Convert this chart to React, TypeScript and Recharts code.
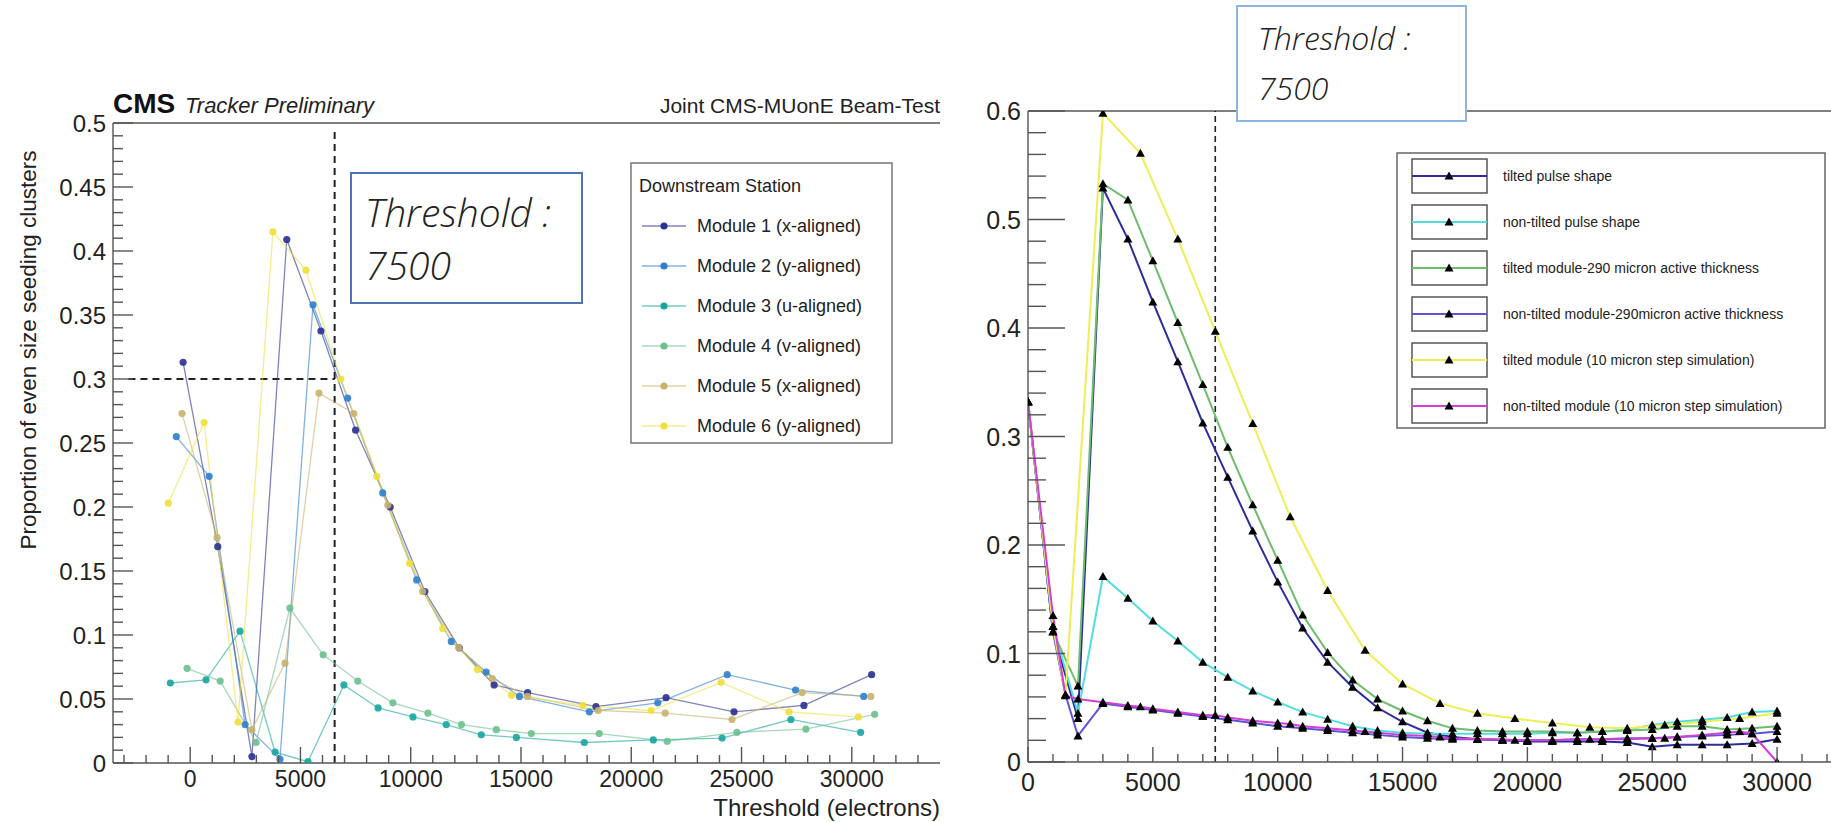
import React from 'react'
import { LineChart, Line, XAxis, YAxis, ReferenceLine } from 'recharts'

const FONT = "'Liberation Sans', Arial, Helvetica, sans-serif"
const NOTE_FONT = "'Open Sans', 'Noto Sans', sans-serif"

// ---- left panel: beam-test modules (threshold in electrons -> proportion)
const moduleNames = [
  'Module 1 (x-aligned)',
  'Module 2 (y-aligned)',
  'Module 3 (u-aligned)',
  'Module 4 (v-aligned)',
  'Module 5 (x-aligned)',
  'Module 6 (y-aligned)',
]
const moduleColors = ['#2b3191', '#2f7fcb', '#17a59e', '#6cc08e', '#c9b36b', '#f0df3a']

const m1X = [-320, 1250, 2800, 4380, 5930, 7500, 9070, 10640, 12200, 13780, 15300, 18400, 21580, 24660, 27830, 30900]
const m1Y = [0.313, 0.169, 0.005, 0.409, 0.3375, 0.26, 0.2, 0.134, 0.09, 0.061, 0.055, 0.044, 0.051, 0.04, 0.045, 0.069]
const m2X = [-630, 860, 2490, 4070, 5570, 7140, 8730, 10270, 11840, 13420, 14930, 18100, 21200, 24350, 27450, 30540]
const m2Y = [0.255, 0.224, 0.03, 0.003, 0.358, 0.285, 0.211, 0.143, 0.095, 0.071, 0.052, 0.04, 0.047, 0.069, 0.057, 0.052]
const m3X = [-900, 720, 2260, 3850, 5340, 6970, 8520, 10100, 11610, 13200, 14790, 17870, 21000, 24120, 27240, 30400]
const m3Y = [0.0625, 0.065, 0.103, 0.0085, 0.001, 0.061, 0.043, 0.036, 0.03, 0.022, 0.02, 0.016, 0.018, 0.0195, 0.034, 0.024]
const m4X = [-140, 1360, 2990, 4520, 6030, 7600, 9190, 10780, 12300, 13880, 15470, 18550, 21630, 24790, 27920, 31040]
const m4Y = [0.074, 0.064, 0.016, 0.121, 0.0845, 0.064, 0.047, 0.039, 0.03, 0.026, 0.023, 0.023, 0.017, 0.024, 0.0265, 0.038]
const m5X = [-370, 1220, 2800, 4300, 5840, 7420, 8960, 10540, 12180, 13700, 15300, 18500, 21540, 24570, 27750, 30860]
const m5Y = [0.273, 0.176, 0.026, 0.078, 0.289, 0.273, 0.2015, 0.134, 0.09, 0.066, 0.052, 0.041, 0.039, 0.034, 0.055, 0.052]
const m6X = [-990, 630, 2170, 3750, 5250, 6830, 8460, 9950, 11450, 13030, 14570, 17800, 20900, 24070, 27150, 30300]
const m6Y = [0.203, 0.266, 0.032, 0.415, 0.385, 0.3, 0.224, 0.156, 0.105, 0.073, 0.053, 0.045, 0.041, 0.063, 0.04, 0.036]

// ---- right panel: simulations
const simNames = [
  'tilted pulse shape',
  'non-tilted pulse shape',
  'tilted module-290 micron active thickness',
  'non-tilted module-290micron active thickness',
  'tilted module (10 micron step simulation)',
  'non-tilted module (10 micron step simulation)',
]
const simColors = ['#2c2c9c', '#52dede', '#6dbd6d', '#5d55d4', '#eeee55', '#d33fd3']

const stepX = [0, 1000, 2000, 3000, 4000, 5000, 6000, 7000, 8000, 9000, 10000, 11000, 12000, 13000, 14000, 15000,
  16000, 17000, 18000, 19000, 20000, 21000, 22000, 23000, 24000, 25000, 26000, 27000, 28000, 29000, 30000]
const tiltedPulseY = [0.332, 0.12, 0.04, 0.529, 0.482, 0.424, 0.369, 0.3125, 0.2625, 0.213, 0.166, 0.1235, 0.092, 0.069,
  0.05, 0.037, 0.027, 0.023, 0.021, 0.02, 0.019, 0.019, 0.019, 0.019, 0.018, 0.014, 0.016, 0.016, 0.016, 0.017, 0.021]
const flatPulseY = [0.332, 0.125, 0.045, 0.171, 0.151, 0.13, 0.1115, 0.092, 0.078, 0.0655, 0.0553, 0.046, 0.0395, 0.033,
  0.029, 0.027, 0.026, 0.026, 0.026, 0.026, 0.026, 0.027, 0.027, 0.028, 0.03, 0.034, 0.037, 0.039, 0.041, 0.046, 0.047]
const tilted290Y = [0.332, 0.12, 0.07, 0.533, 0.518, 0.462, 0.405, 0.348, 0.29, 0.237, 0.186, 0.1355, 0.101, 0.0755,
  0.058, 0.047, 0.038, 0.031, 0.029, 0.028, 0.028, 0.028, 0.027, 0.028, 0.029, 0.03, 0.033, 0.033, 0.03, 0.031, 0.033]
const flat290X = [0, 1000, 1500, 2000, 3000, 4000, 5000, 6000, 7000, 8000, 9000, 10000, 11000, 12000, 13000, 14000, 15000,
  16000, 17000, 18000, 19000, 20000, 21000, 22000, 23000, 24000, 25000, 26000, 27000, 28000, 29000, 30000]
const flat290Y = [0.332, 0.12, 0.062, 0.024, 0.054, 0.051, 0.048, 0.045, 0.042, 0.039, 0.036, 0.033, 0.031, 0.029, 0.027,
  0.025, 0.023, 0.022, 0.021, 0.021, 0.02, 0.02, 0.02, 0.021, 0.021, 0.022, 0.022, 0.023, 0.024, 0.025, 0.026, 0.028]
const tilted10X = [0, 1000, 1500, 3000, 4500, 6000, 7500, 9000, 10500, 12000, 13500, 15000, 16500, 18000, 19500, 21000,
  22500, 24000, 25500, 27000, 28500, 30000]
const tilted10Y = [0.332, 0.125, 0.062, 0.598, 0.561, 0.482, 0.397, 0.312, 0.226, 0.158, 0.103, 0.072, 0.054, 0.045,
  0.04, 0.036, 0.032, 0.031, 0.034, 0.037, 0.04, 0.045]
const flat10X = [0, 1000, 1500, 2000, 3000, 4000, 4500, 5000, 6000, 7000, 7500, 8000, 9000, 10000, 10500, 11000, 12000,
  13000, 13500, 14000, 15000, 16000, 16500, 17000, 18000, 19000, 19500, 20000, 21000, 22000, 22500, 23000, 24000, 25000,
  25500, 26000, 27000, 28000, 28500, 29000, 30000]
const flat10Y = [0.332, 0.135, 0.061, 0.058, 0.055, 0.052, 0.051, 0.049, 0.046, 0.043, 0.043, 0.041, 0.038, 0.036, 0.035,
  0.033, 0.031, 0.029, 0.028, 0.027, 0.025, 0.024, 0.023, 0.022, 0.021, 0.021, 0.02, 0.02, 0.02, 0.021, 0.021, 0.021,
  0.021, 0.022, 0.022, 0.023, 0.025, 0.027, 0.028, 0.026, 0]

const pts = (xs: number[], ys: number[]) => xs.map((x, i) => ({ x, y: ys[i] }))

const moduleSeries = [
  pts(m1X, m1Y), pts(m2X, m2Y), pts(m3X, m3Y), pts(m4X, m4Y), pts(m5X, m5Y), pts(m6X, m6Y),
]
const simSeries = [
  pts(stepX, tiltedPulseY), pts(stepX, flatPulseY), pts(stepX, tilted290Y),
  pts(flat290X, flat290Y), pts(tilted10X, tilted10Y), pts(flat10X, flat10Y),
]

const range = (a: number, b: number, s: number) => {
  const out: number[] = []
  for (let v = a; v <= b + 1e-9; v += s) out.push(Math.round(v * 1000) / 1000)
  return out
}
const leftXTicks = range(-3000, 33000, 1000)
const leftYTicks = range(0, 0.5, 0.01)
const rightXTicks = range(0, 32000, 1000)
const rightYTicks = range(0, 0.6, 0.02)

const fmtY = (v: number) => String(+v.toFixed(2))

const xTick = (isMajor: (v: number) => boolean, maj: number, min: number, dy: number, fs: number) => (p: any) => {
  const v = p.payload.value
  const big = isMajor(v)
  return (
    <g>
      <line x1={p.x} y1={p.y} x2={p.x} y2={p.y - (big ? maj : min)} stroke="#555" strokeWidth={1.4} />
      {big && (
        <text x={p.x} y={p.y + dy} textAnchor="middle" fontSize={fs} fill="#222" fontFamily={FONT}>{v}</text>
      )}
    </g>
  )
}

const yTick = (isMajor: (v: number) => boolean, maj: number, min: number, fs: number) => (p: any) => {
  const v = p.payload.value
  const big = isMajor(v)
  return (
    <g>
      <line x1={p.x} y1={p.y} x2={p.x + (big ? maj : min)} y2={p.y} stroke="#555" strokeWidth={1.4} />
      {big && (
        <text x={p.x - 7} y={p.y + fs * 0.36} textAnchor="end" fontSize={fs} fill="#222" fontFamily={FONT}>{fmtY(v)}</text>
      )}
    </g>
  )
}

const TriDot = (p: any) => {
  const { cx, cy } = p
  if (cx == null || cy == null) return <g />
  return <path d={`M${cx},${cy - 4.5} L${cx + 4.5},${cy + 3.5} L${cx - 4.5},${cy + 3.5} Z`} fill="#000" />
}

function LeftPanel() {
  return (
    <LineChart width={960} height={822} margin={{ top: 123, right: 20, bottom: 19, left: 53 }}>
      <XAxis
        type="number" dataKey="x" domain={[-3500, 34000]} allowDataOverflow ticks={leftXTicks} interval={0}
        height={40} tickSize={0} tickMargin={0} tickLine={false} stroke="#555" strokeWidth={1.4}
        tick={xTick((v) => v % 5000 === 0, 16, 8, 24, 23)}
      />
      <YAxis
        type="number" domain={[0, 0.5]} allowDataOverflow ticks={leftYTicks} interval={0}
        width={60} tickSize={0} tickMargin={0} tickLine={false} stroke="#555" strokeWidth={1.4}
        tick={yTick((v) => Math.round(v * 100) % 5 === 0, 20, 10, 24)}
      />
      <ReferenceLine y={0.5} stroke="#555" strokeWidth={1.4} />
      <ReferenceLine segment={[{ x: -2800, y: 0.3 }, { x: 6550, y: 0.3 }]} stroke="#222" strokeWidth={2} strokeDasharray="7 5" />
      <ReferenceLine segment={[{ x: 6550, y: 0 }, { x: 6550, y: 0.495 }]} stroke="#222" strokeWidth={2} strokeDasharray="7 5" />
      {moduleSeries.map((d, i) => (
        <Line
          key={moduleNames[i]} data={d} dataKey="y" type="linear" stroke={moduleColors[i]} strokeOpacity={0.6}
          strokeWidth={1.3} dot={{ r: 3.6, fill: moduleColors[i], stroke: 'none', fillOpacity: 0.9 }}
          isAnimationActive={false}
        />
      ))}
    </LineChart>
  )
}

function RightPanel() {
  return (
    <LineChart width={891} height={822} margin={{ top: 111, right: 0, bottom: 20, left: 28 }}>
      <XAxis
        type="number" dataKey="x" domain={[0, 32160]} allowDataOverflow ticks={rightXTicks} interval={0}
        height={40} tickSize={0} tickMargin={0} tickLine={false} stroke="#555" strokeWidth={1.4}
        tick={xTick((v) => v % 5000 === 0, 15, 8, 29, 25)}
      />
      <YAxis
        type="number" domain={[0, 0.6]} allowDataOverflow ticks={rightYTicks} interval={0}
        width={60} tickSize={0} tickMargin={0} tickLine={false} stroke="#555" strokeWidth={1.4}
        tick={yTick((v) => Math.round(v * 100) % 10 === 0, 37, 18, 25)}
      />
      <ReferenceLine y={0.6} stroke="#555" strokeWidth={1.4} />
      <ReferenceLine x={7500} stroke="#222" strokeWidth={1.6} strokeDasharray="6 4" />
      {simSeries.map((d, i) => (
        <Line
          key={simNames[i]} data={d} dataKey="y" type="linear" stroke={simColors[i]} strokeWidth={2}
          dot={TriDot} isAnimationActive={false}
        />
      ))}
    </LineChart>
  )
}

function Overlay() {
  return (
    <svg width={1831} height={822} style={{ position: 'absolute', left: 0, top: 0, pointerEvents: 'none' }}>
      {/* left header */}
      <text x={113} y={113} fontFamily={FONT} fontWeight="bold" fontSize={28} fill="#111">CMS</text>
      <text x={185} y={113} fontFamily={FONT} fontStyle="italic" fontSize={22} fill="#222">Tracker Preliminary</text>
      <text x={940} y={113} textAnchor="end" fontFamily={FONT} fontSize={21} fill="#222">Joint CMS-MUonE Beam-Test</text>
      <text
        x={0} y={0} transform="translate(28,350) rotate(-90)" textAnchor="middle" dominantBaseline="central"
        fontFamily={FONT} fontSize={22.5} fill="#222"
      >
        Proportion of even size seeding clusters
      </text>
      <text x={940} y={816} textAnchor="end" fontFamily={FONT} fontSize={24} fill="#222">Threshold (electrons)</text>

      {/* left threshold note */}
      <rect x={351} y={173} width={231} height={130} fill="#fff" stroke="#4f74b3" strokeWidth={2} />
      <text x={365} y={227} fontFamily={NOTE_FONT} fontStyle="italic" fontWeight={300} fontSize={39} fill="#222">Threshold :</text>
      <text x={365} y={280} fontFamily={NOTE_FONT} fontStyle="italic" fontWeight={300} fontSize={39} fill="#222">7500</text>

      {/* left legend */}
      <rect x={631} y={163} width={261} height={280} fill="#fff" stroke="#777" strokeWidth={1.5} />
      <text x={639} y={192} fontFamily={FONT} fontSize={18} fill="#222">Downstream  Station</text>
      {moduleNames.map((n, i) => {
        const cy = 226 + i * 40
        return (
          <g key={n}>
            <line x1={642} y1={cy} x2={686} y2={cy} stroke={moduleColors[i]} strokeOpacity={0.6} strokeWidth={1.3} />
            <circle cx={664} cy={cy} r={3.6} fill={moduleColors[i]} />
            <text x={697} y={cy + 6} fontFamily={FONT} fontSize={18} fill="#222">{n}</text>
          </g>
        )
      })}

      {/* right threshold note */}
      <rect x={1237} y={6} width={229} height={115} fill="#fff" stroke="#8cb6df" strokeWidth={2} />
      <text x={1258} y={50} fontFamily={NOTE_FONT} fontStyle="italic" fontWeight={300} fontSize={32} fill="#222">Threshold :</text>
      <text x={1258} y={100} fontFamily={NOTE_FONT} fontStyle="italic" fontWeight={300} fontSize={32} fill="#222">7500</text>

      {/* right legend */}
      <rect x={1397} y={153} width={428} height={275} fill="#fff" stroke="#666" strokeWidth={1.5} />
      {simNames.map((n, i) => {
        const cy = 176 + i * 46
        return (
          <g key={n}>
            <rect x={1412} y={cy - 17} width={75} height={34} fill="none" stroke="#555" strokeWidth={1.5} />
            <line x1={1412} y1={cy} x2={1487} y2={cy} stroke={simColors[i]} strokeWidth={2} />
            <path d={`M1449,${cy - 4.5} L1453.5,${cy + 3.5} L1444.5,${cy + 3.5} Z`} fill="#000" />
            <text x={1503} y={cy + 5} fontFamily={FONT} fontSize={14} fill="#222">{n}</text>
          </g>
        )
      })}
    </svg>
  )
}

export default function App() {
  return (
    <div style={{ position: 'absolute', left: 0, top: 0, width: 1831, height: 822, overflow: 'hidden', background: '#fff' }}>
      <div style={{ position: 'absolute', left: 0, top: 0 }}>
        <LeftPanel />
      </div>
      <div style={{ position: 'absolute', left: 940, top: 0 }}>
        <RightPanel />
      </div>
      <Overlay />
    </div>
  )
}
